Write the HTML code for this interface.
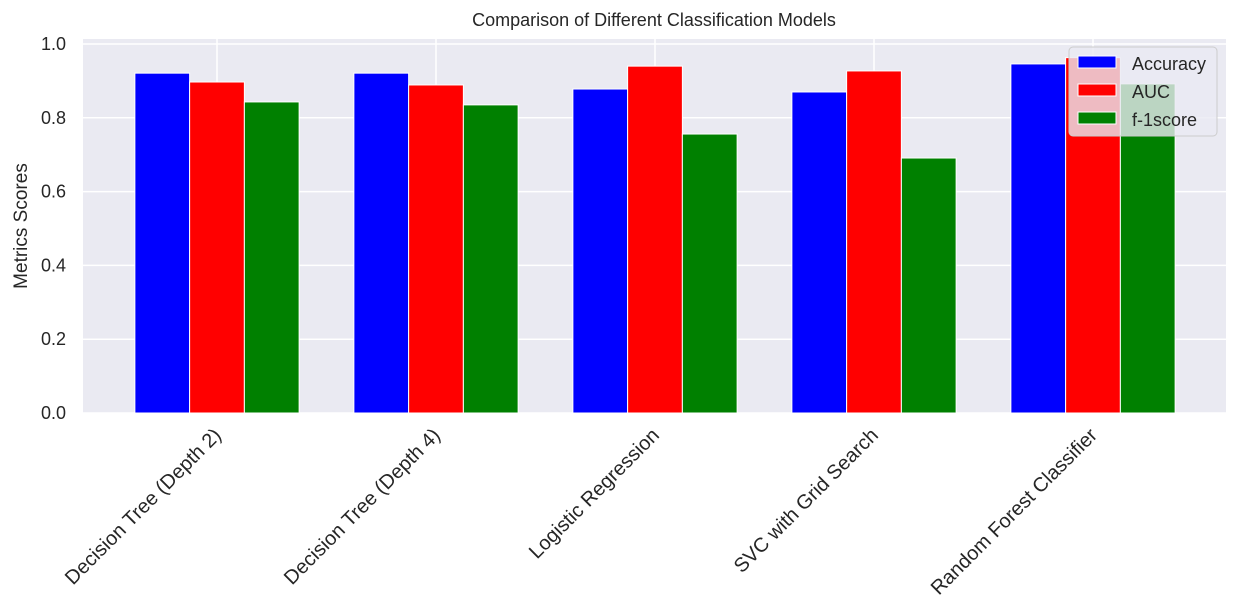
<!DOCTYPE html>
<html><head><meta charset="utf-8"><style>
body{margin:0;background:#fff;}
svg text{font-family:"Liberation Sans",Arial,sans-serif;fill:#262626;}
</style></head><body>
<svg width="1240" height="610" xmlns="http://www.w3.org/2000/svg">
<rect x="83" y="39" width="1143" height="374" fill="#eaeaf2"/>
<g id="grid"></g>
<g id="bars"></g>
<g id="ticks"></g>
<text x="654" y="26" text-anchor="middle" font-size="18">Comparison of Different Classification Models</text>
<text transform="translate(27,226) rotate(-90)" text-anchor="middle" font-size="19">Metrics Scores</text>
<g>
<rect x="1069" y="47" width="148" height="89" rx="4" fill="#eaeaf2" fill-opacity="0.8" stroke="#cccccc"/>
<g><rect x="1078" y="56" width="38" height="12" fill="#0000ff" stroke="#fff"/><text x="1132" y="70" font-size="18">Accuracy</text></g>
<g><rect x="1078" y="84" width="38" height="12" fill="#ff0000" stroke="#fff"/><text x="1132" y="98" font-size="18">AUC</text></g>
<g><rect x="1078" y="112" width="38" height="12" fill="#008000" stroke="#fff"/><text x="1132" y="126" font-size="18">f-1score</text></g>
</g>
</svg>
<script>
const categories=["Decision Tree (Depth 2)","Decision Tree (Depth 4)","Logistic Regression","SVC with Grid Search","Random Forest Classifier"];
const accuracy=[0.921,0.921,0.878,0.870,0.946];
const auc=[0.897,0.889,0.940,0.927,0.963];
const f1score=[0.843,0.835,0.756,0.691,0.892];
const yTicks=[0.0,0.2,0.4,0.6,0.8,1.0];
const NS="http://www.w3.org/2000/svg";
const y0=413,pxPerUnit=369;
function yScale(v){return y0-v*pxPerUnit;}
const step=219,first=217;
function xScale(i){return first+i*step;}
const bw=step*0.25;
function mk(t,a,p){const e=document.createElementNS(NS,t);for(const k in a)e.setAttribute(k,a[k]);p.appendChild(e);return e;}
const grid=document.getElementById('grid'),bars=document.getElementById('bars'),ticks=document.getElementById('ticks');
yTicks.forEach(v=>{
 const l=mk('line',{x1:83,x2:1226,y1:yScale(v),y2:yScale(v),stroke:'#fff','stroke-width':1.5},grid);
 
 
 const t=mk('text',{x:66,y:yScale(v)+6,'text-anchor':'end','font-size':18},ticks);
 t.textContent=v.toFixed(1);
 
 
});
categories.forEach((c,i)=>{
 const l=mk('line',{x1:xScale(i),x2:xScale(i),y1:39,y2:413,stroke:'#fff','stroke-width':1.5},grid);
 
 
 const x=xScale(i)-1,y=430;
 const t=mk('text',{x:x,y:y+9,'text-anchor':'end','font-size':20,transform:`rotate(-45 ${x} ${y})`},ticks);
 t.textContent=c;
 
 
});
const series=[[accuracy,'#0000ff','accuracy'],[auc,'#ff0000','auc'],[f1score,'#008000','f1score']];
series.forEach(([vals,col,nm],s)=>{
 vals.forEach((v,i)=>{
  const x=xScale(i)+(s-1.5)*bw;
  const r=mk('rect',{x:x,y:yScale(v),width:bw,height:y0-yScale(v),fill:col,stroke:'#fff','stroke-width':1},bars);
  
  
 });
});
</script>
</body></html>
